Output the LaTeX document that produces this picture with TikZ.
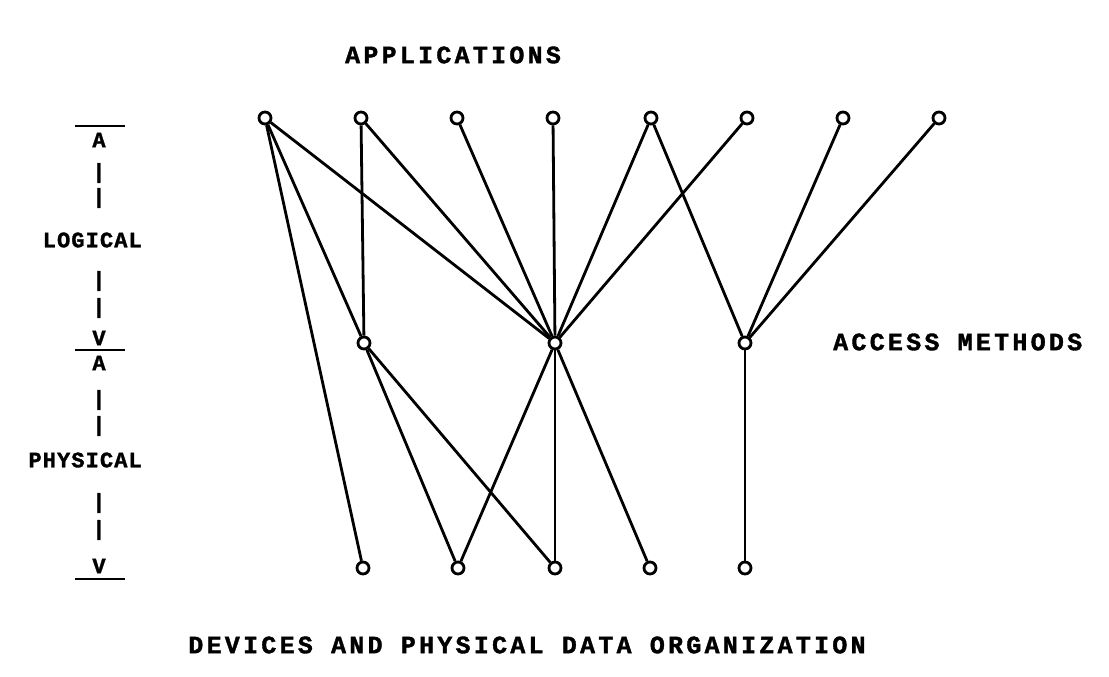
\documentclass[tikz,border=0pt]{standalone}
\usepackage{fontspec}
\newfontfamily\typer{Liberation Mono}[LetterSpace=13,BoldFeatures={FakeBold=1.5}]
\newfontfamily\typerside{Liberation Mono}[LetterSpace=5,BoldFeatures={FakeBold=1.5}]
\begin{document}
\begin{tikzpicture}[x=1pt,y=-1pt,
  pt/.style={circle,draw,line width=2.8pt,minimum size=12pt,inner sep=0pt,fill=white},
  link/.style={line width=2.8pt},
  rulebar/.style={line width=2pt},
  label/.style={font=\typer\bfseries\fontsize{25}{25}\selectfont,inner sep=0pt},
  side/.style={font=\typerside\bfseries\fontsize{22}{22}\selectfont,inner sep=0pt},
  tick/.style={font=\typerside\bfseries\fontsize{21}{21}\selectfont,inner sep=0pt}]
\useasboundingbox (0,0) rectangle (1109,677);

% application programs
\foreach \n/\x in {1/265,2/361,3/457,4/553,5/651,6/747,7/843,8/939}
  \coordinate (cT\n) at (\x,118);
% access methods
\coordinate (cM1) at (364,343);
\coordinate (cM2) at (555,343);
\coordinate (cM3) at (745,343);
% devices
\foreach \n/\x in {1/363,2/458,3/555,4/650,5/745}
  \coordinate (cB\n) at (\x,568);

% hollow points, then the connections between them
\foreach \n in {1,...,8} \node[pt] (T\n) at (cT\n) {};
\foreach \n in {1,2,3} \node[pt] (M\n) at (cM\n) {};
\foreach \n in {1,...,5} \node[pt] (B\n) at (cB\n) {};
\foreach \a/\b in {T1/B1,T1/M1,T1/M2,T2/M1,T2/M2,T3/M2,T4/M2,T5/M2,T5/M3,
                   T6/M2,T7/M3,T8/M3,M1/B2,M1/B3,M2/B2,M2/B3,M2/B4,M3/B5}
  \draw[link] (\a) -- (\b);

% headings
\node[label] (apps) at (453,55) {APPLICATIONS};
\node[label,anchor=west] (acc) at (833,342) {ACCESS METHODS};
\node[label] (dev) at (527,645) {DEVICES AND PHYSICAL DATA ORGANIZATION};

% logical / physical scale
\coordinate (r1a) at (75,126); \coordinate (r1b) at (125,126);
\coordinate (r2a) at (75,350); \coordinate (r2b) at (125,350);
\coordinate (r3a) at (75,579); \coordinate (r3b) at (125,579);
\draw[rulebar] (r1a) -- (r1b);
\draw[rulebar] (r2a) -- (r2b);
\draw[rulebar] (r3a) -- (r3b);
\node[side] (a1) at (99,140) {A};
\node[side,anchor=east] (logi) at (142,240) {LOGICAL};
\node[side] (v1) at (99,338) {V};
\node[side] (a2) at (99,363) {A};
\node[side,anchor=east] (phys) at (142,460) {PHYSICAL};
\node[side] (v2) at (99,566) {V};
% typed bars between the letters
\foreach \y [count=\i] in {173,198,281,308,400,426,503,530}
  \node[tick] (bar\i) at (99,\y) {|};
\end{tikzpicture}
\end{document}
